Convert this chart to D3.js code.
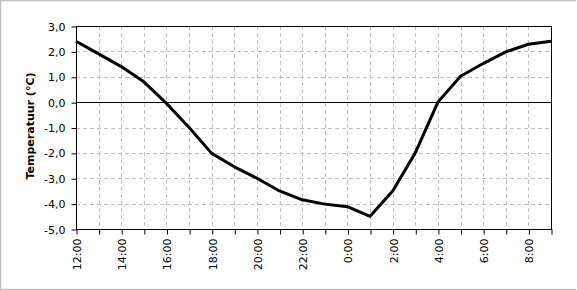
<!DOCTYPE html>
<html>
<head>
<meta charset="utf-8">
<script src="https://cdn.jsdelivr.net/npm/d3@7"></script>
<style>
  body { margin: 0; background: #fff; }
  svg { display: block; }
  text { font-family: "DejaVu Sans", Verdana, sans-serif; font-size: 11px; fill: #000; }
</style>
</head>
<body>
<svg id="chart"></svg>
<script>
// hourly readings, 12:00 until 9:00 next morning
var hours = ["12:00","13:00","14:00","15:00","16:00","17:00","18:00","19:00","20:00","21:00","22:00",
             "23:00","0:00","1:00","2:00","3:00","4:00","5:00","6:00","7:00","8:00","9:00"];
var temps = [2.4, 1.9, 1.4, 0.8, -0.05, -1.0, -2.02, -2.55, -3.0, -3.5, -3.85,
             -4.02, -4.12, -4.5, -3.5, -2.0, 0.0, 1.02, 1.52, 1.98, 2.28, 2.4];
var yTicks = [3, 2, 1, 0, -1, -2, -3, -4, -5];

var width = 577,
    height = 290;
var margin = {top: 26, right: 26, bottom: 61, left: 76};

var svg = d3.select("#chart")
    .attr("width", width)
    .attr("height", height);

// outer frame (top, left, bottom)
svg.append("path")
    .attr("d", "M576,0.5H0.5V289.5H576")
    .attr("fill", "none")
    .attr("stroke", "#c0c0c0")
    .attr("stroke-width", 1.5);

var x = d3.scaleLinear()
    .domain([0, hours.length - 1])
    .range([margin.left, width - margin.right]);

var y = d3.scaleLinear()
    .domain([-5, 3])
    .range([height - margin.bottom, margin.top]);

var g = svg.append("g");

// dashed grid
g.selectAll(".vgrid")
    .data(d3.range(1, hours.length - 1))
    .enter().append("line")
    .attr("class", "vgrid")
    .attr("x1", function(d){ return Math.round(x(d)) + 0.5; })
    .attr("x2", function(d){ return Math.round(x(d)) + 0.5; })
    .attr("y1", y(3))
    .attr("y2", y(-5))
    .attr("stroke", "#c0c0c0")
    .attr("stroke-dasharray", "4,3");

g.selectAll(".hgrid")
    .data(yTicks.filter(function(d){ return d != 3 && d != -5 && d != 0; }))
    .enter().append("line")
    .attr("class", "hgrid")
    .attr("x1", x(0))
    .attr("x2", x(hours.length - 1))
    .attr("y1", function(d){ return Math.round(y(d)) + 0.5; })
    .attr("y2", function(d){ return Math.round(y(d)) + 0.5; })
    .attr("stroke", "#c0c0c0")
    .attr("stroke-dasharray", "4,3");

// zero line
g.append("line")
    .attr("x1", x(0))
    .attr("x2", x(hours.length - 1))
    .attr("y1", Math.round(y(0)) + 0.5)
    .attr("y2", Math.round(y(0)) + 0.5)
    .attr("stroke", "#000");

// plot border
g.append("rect")
    .attr("x", Math.round(x(0)) + 0.5)
    .attr("y", Math.round(y(3)) + 0.5)
    .attr("width", Math.round(x(hours.length - 1)) - Math.round(x(0)))
    .attr("height", Math.round(y(-5)) - Math.round(y(3)))
    .attr("fill", "none")
    .attr("stroke", "#000");

// y axis
var yAxis = d3.axisLeft(y)
    .tickValues(yTicks)
    .tickSize(5)
    .tickPadding(6)
    .tickFormat(function(d){ return d3.format(".1f")(d).replace(".", ",").replace("\u2212", "-"); });

svg.append("g")
    .attr("transform", "translate(" + (Math.round(x(0)) + 0.5) + ",0.5)")
    .call(yAxis)
    .call(function(a){
      a.select(".domain").remove();
      a.selectAll("line").attr("stroke", "#000");
      a.selectAll("text").style("font-family", "DejaVu Sans").style("font-size", "11px");
    });

// x axis
var xAxis = d3.axisBottom(x)
    .tickValues(d3.range(0, hours.length))
    .tickSize(5)
    .tickFormat(function(d){ return d % 2 == 0 ? hours[d] : ""; });

var xa = svg.append("g")
    .attr("transform", "translate(0.5," + (Math.round(y(-5)) + 0.5) + ")")
    .call(xAxis);
xa.select(".domain").remove();
xa.selectAll("line").attr("stroke", "#000");
xa.selectAll("text")
    .style("font-family", "DejaVu Sans")
    .style("font-size", "11px")
    .attr("transform", "rotate(-90)")
    .attr("text-anchor", "end")
    .attr("x", -9)
    .attr("y", 0)
    .attr("dy", "0.35em");

// axis title
svg.append("text")
    .attr("transform", "translate(34,126) rotate(-90)")
    .attr("text-anchor", "middle")
    .style("font-weight", "bold")
    .text("Temperatuur (°C)");

// temperature line
var line = d3.line()
    .x(function(d, i){ return x(i); })
    .y(function(d){ return y(d); });

svg.append("path")
    .datum(temps)
    .attr("d", line)
    .attr("fill", "none")
    .attr("stroke", "#000")
    .attr("stroke-width", 3)
    .attr("stroke-linejoin", "round");
</script>
</body>
</html>
